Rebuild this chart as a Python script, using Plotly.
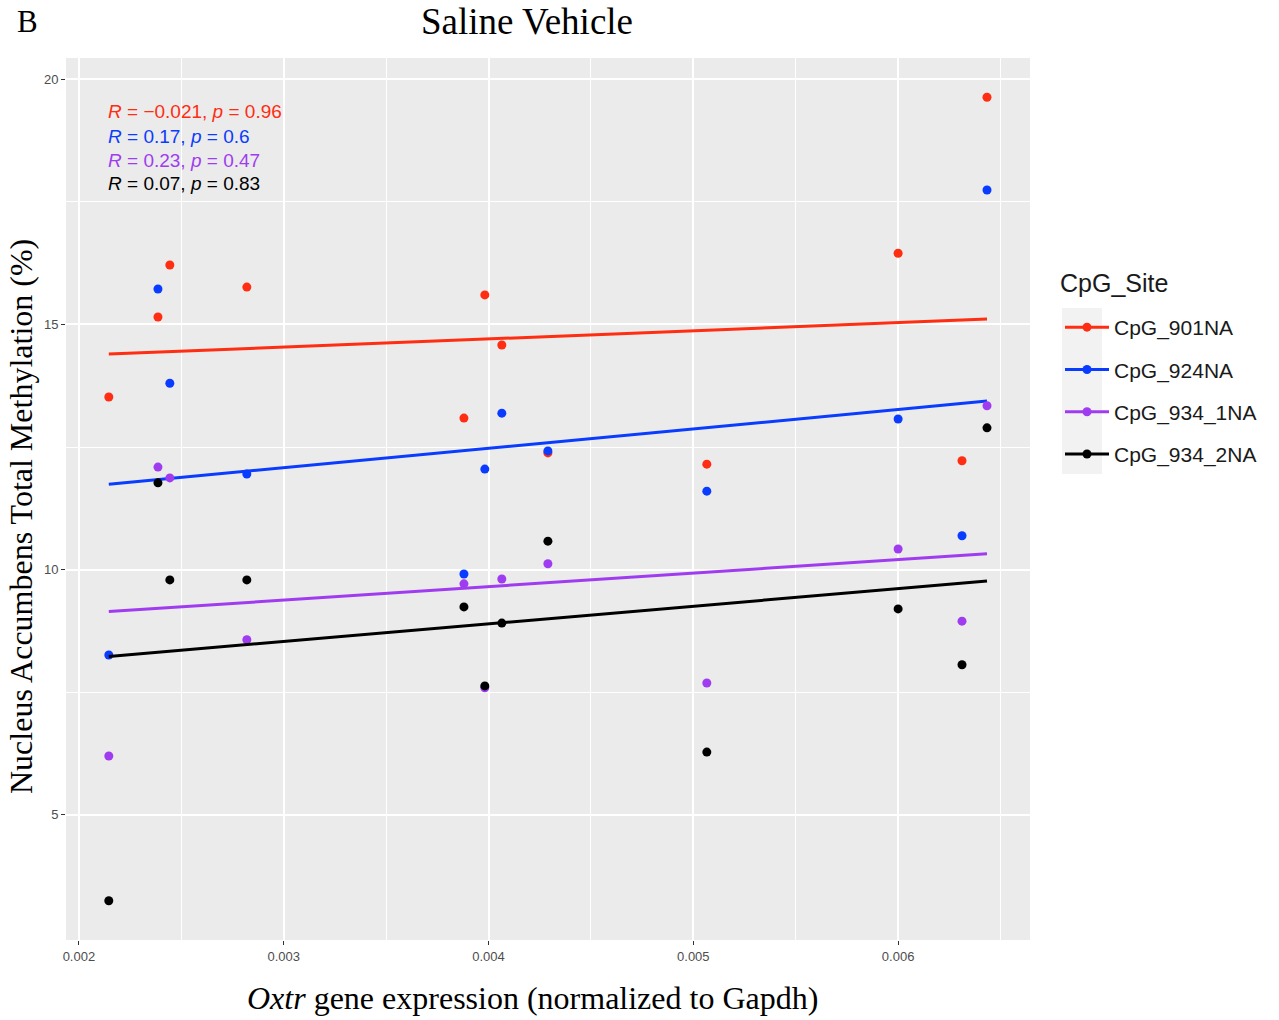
import numpy as np
import plotly.graph_objects as go

# Oxtr expression (normalized to Gapdh) per animal
oxtr_expr = [0.002146, 0.002386, 0.002444, 0.002820, 0.003880, 0.003982,
             0.004065, 0.004290, 0.005066, 0.006000, 0.006312, 0.006434]

# Total methylation (%) per CpG site, same animal order
cpg_901 = [13.52, 15.15, 16.21, 15.76, 13.09, 15.60, 14.58, 12.38, 12.15, 16.45, 12.22, 19.63]
cpg_924 = [8.26, 15.72, 13.80, 11.95, 9.91, 12.05, 13.19, 12.42, 11.60, 13.07, 10.69, 17.74]
cpg_934_1 = [6.20, 12.09, 11.87, 8.57, 9.71, 7.59, 9.81, 10.12, 7.69, 10.42, 8.95, 13.34]
cpg_934_2 = [3.25, 11.77, 9.79, 9.79, 9.24, 7.63, 8.91, 10.58, 6.28, 9.20, 8.06, 12.89]

site_names = ["CpG_901NA", "CpG_924NA", "CpG_934_1NA", "CpG_934_2NA"]
site_values = [cpg_901, cpg_924, cpg_934_1, cpg_934_2]
site_colors = ["#FF2D12", "#0A3CFF", "#A03CF0", "#000000"]

# Correlation statistics per site
r_labels = ["\u2212 0.021", "0.17", "0.23", "0.07"]
p_labels = ["0.96", "0.6", "0.47", "0.83"]

SERIF = "Liberation Serif, Times New Roman"
SANS = "Liberation Sans, Arial"

# panel geometry in pixels
L, R, T, B = 66, 1030, 58, 940
W, H = 1279, 1020


def px_x(px):
    return (px - L) / (R - L)


def px_y(py):
    return 1 - (py - T) / (B - T)


fig = go.Figure()
x = np.array(oxtr_expr)
for name, vals, col in zip(site_names, site_values, site_colors):
    y = np.array(vals)
    fig.add_trace(go.Scatter(x=x, y=y, mode="markers", showlegend=False,
                             legendgroup=name, marker=dict(color=col, size=9)))
    slope, intercept = np.polyfit(x, y, 1)
    xs = np.array([x.min(), x.max()])
    fig.add_trace(go.Scatter(x=xs, y=slope * xs + intercept, mode="lines",
                             showlegend=False, legendgroup=name,
                             line=dict(color=col, width=3)))
    # legend key: line with point
    fig.add_trace(go.Scatter(x=[None], y=[None], mode="lines+markers", name=name,
                             legendgroup=name,
                             line=dict(color=col, width=3),
                             marker=dict(color=col, size=9)))

for i, (r, p, col) in enumerate(zip(r_labels, p_labels, site_colors)):
    fig.add_annotation(xref="paper", yref="paper", x=px_x(106),
                       y=px_y(112 + 24 * i), xanchor="left", yanchor="middle",
                       showarrow=False,
                       text=f"<i>R</i> = {r}, <i>p</i> = {p}".replace("= \u2212 ", "= \u2212"),
                       font=dict(family=SANS, size=19, color=col))

# panel label
fig.add_annotation(xref="paper", yref="paper", x=px_x(15), y=px_y(22),
                   xanchor="left", yanchor="middle", showarrow=False, text="B",
                   font=dict(family=SERIF, size=31, color="black"))
# title
fig.add_annotation(xref="paper", yref="paper", x=px_x(527), y=px_y(22),
                   xanchor="center", yanchor="middle", showarrow=False, text="Saline Vehicle",
                   font=dict(family=SERIF, size=37, color="black"))
# axis titles
fig.add_annotation(xref="paper", yref="paper", x=px_x(532), y=px_y(998),
                   xanchor="center", yanchor="middle", showarrow=False,
                   text="<i>Oxtr</i> gene expression (normalized to Gapdh)",
                   font=dict(family=SERIF, size=32, color="black"))
fig.add_annotation(xref="paper", yref="paper", x=px_x(21), y=px_y(517),
                   xanchor="center", yanchor="middle", showarrow=False, textangle=-90,
                   text="Nucleus Accumbens Total Methylation (%)",
                   font=dict(family=SERIF, size=32, color="black"))
# legend title
fig.add_annotation(xref="paper", yref="paper", x=px_x(1058), y=px_y(283),
                   xanchor="left", yanchor="middle", showarrow=False, text="CpG_Site",
                   font=dict(family=SANS, size=25, color="#1A1A1A"))

# grey background behind legend keys
fig.add_shape(type="rect", xref="paper", yref="paper",
              x0=px_x(1062), x1=px_x(1102), y0=px_y(474), y1=px_y(308),
              fillcolor="#F2F2F2", line=dict(width=0), layer="below")

axis_common = dict(
    showgrid=True, gridcolor="white", gridwidth=2,
    zeroline=False, showline=False, automargin=False,
    ticks="outside", ticklen=4, tickcolor="#333333", tickwidth=1,
    tickfont=dict(family=SANS, size=13, color="#4D4D4D"),
)

fig.update_layout(
    width=W, height=H,
    margin=dict(l=L, r=W - R, t=T, b=H - B),
    paper_bgcolor="white", plot_bgcolor="#EBEBEB",
    xaxis=dict(range=[0.001937, 0.006644], tickvals=[0.002, 0.003, 0.004, 0.005, 0.006],
               ticktext=["0.002", "0.003", "0.004", "0.005", "0.006"],
               minor=dict(showgrid=True, gridcolor="white", gridwidth=1,
                          tickvals=[0.0025, 0.0035, 0.0045, 0.0055, 0.0065], ticks=""),
               **axis_common),
    yaxis=dict(range=[2.45, 20.43], tickvals=[5, 10, 15, 20],
               minor=dict(showgrid=True, gridcolor="white", gridwidth=1,
                          tickvals=[7.5, 12.5, 17.5], ticks=""),
               **axis_common),
    legend=dict(font=dict(family=SANS, size=21, color="#1A1A1A"),
                x=px_x(1060), xanchor="left", y=px_y(307), yanchor="top",
                tracegroupgap=12, itemwidth=44, bgcolor="rgba(0,0,0,0)"),
)

fig.write_html("out.html")
